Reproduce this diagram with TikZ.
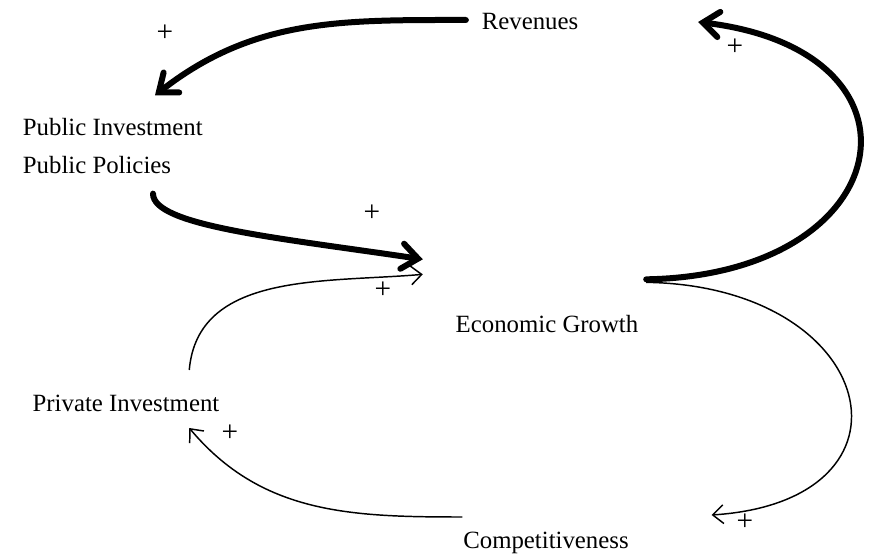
\documentclass[tikz,border=0pt]{standalone}
\usepackage{fontspec}
\setmainfont{Liberation Serif}
\usepackage{tikz}
\usetikzlibrary{arrows.meta,positioning,calc}

\begin{document}
\begin{tikzpicture}[x=0.75pt,y=0.75pt,
  var/.style={inner sep=2pt,font=\fontsize{18.6}{22}\selectfont},
  pol/.style={inner sep=0pt,font=\fontsize{22}{24}\selectfont},
  strong/.style={line width=4.5pt,line cap=round,-{Straight Barb[length=12pt,width=19pt,line cap=round]}},
  weak/.style={line width=1.1pt,-{Straight Barb[length=8pt,width=14pt]}}]
\useasboundingbox (0,0) rectangle (871,556);
% Variables
\node[var] (rev) at (530,534) {Revenues};
\node[var,anchor=west] (pubinv) at (20,429) {Public Investment};
\node[var,anchor=west] (pubpol) at (20,391) {Public Policies};
\node[var] (eco) at (547,232) {Economic Growth};
\node[var] (priv) at (126,153) {Private Investment};
\node[var] (comp) at (546,13) {Competitiveness};
% Reinforcing loop through public spending
\draw[strong] ($(rev.west)+(-13,2)$) to[out=180,in=38] ($(pubinv.north west)+(135,20)$);
\draw[strong] ($(pubpol.south west)+(133,-17)$) .. controls (153,330) and (280,318) .. ($(eco.north west)+(-30,53)$);
\draw[strong] ($(eco.north east)+(5,33)$) .. controls (900,281) and (940,505) .. ($(rev.east)+(117,0)$);
% Loop through the private sector
\draw[weak] ($(eco.north east)+(5,30)$) .. controls (880,270) and (930,55) .. ($(comp.east)+(80,28)$);
\draw[weak] ($(comp.west)+(2,26)$) to[out=180,in=-50] ($(priv.east)+(-33,-25)$);
\draw[weak] ($(priv.east)+(-33,33)$) to[out=85,in=185] ($(eco.north west)+(-30,38)$);
% Polarities
\node[pol] (p1) at (165,523) {+};
\node[pol] (p2) at (372,343) {+};
\node[pol] (p3) at (735,509) {+};
\node[pol] (p4) at (745,34) {+};
\node[pol] (p5) at (230,123) {+};
\node[pol] (p6) at (383,266) {+};
\end{tikzpicture}
\end{document}
